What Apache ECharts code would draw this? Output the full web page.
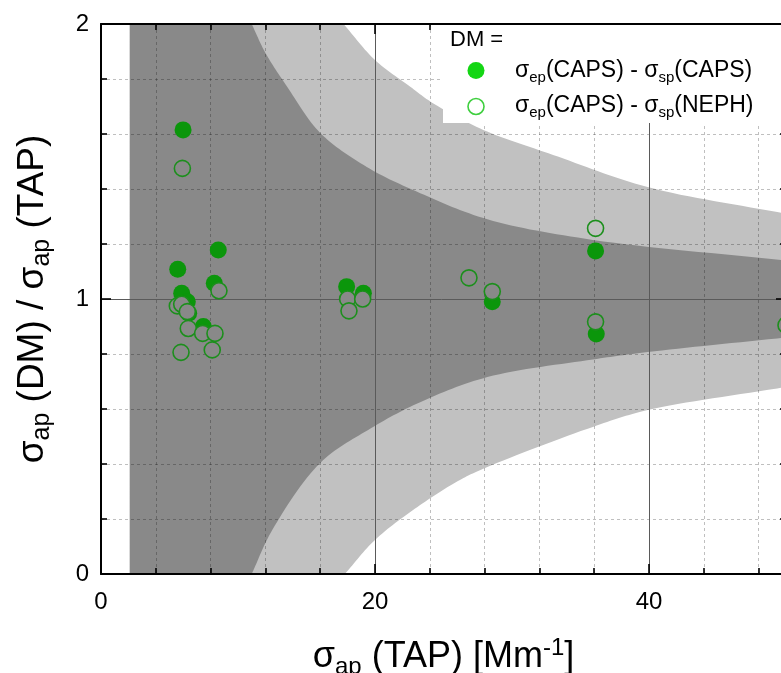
<!DOCTYPE html>
<html>
<head>
<meta charset="utf-8">
<script src="https://cdn.jsdelivr.net/npm/echarts@6/dist/echarts.min.js"></script>
<style>
  html, body { margin: 0; padding: 0; background: #ffffff; }
  #chart { width: 781px; height: 673px; }
</style>
</head>
<body>
<div id="chart"></div>
<script>
// Absorption ratio, DM = σep(CAPS) − σsp(CAPS)
const capsCapsX = [5.99, 8.56, 5.60, 8.27, 5.89, 6.30, 6.40, 7.47, 17.93, 19.15, 28.56, 36.10, 36.15];
const capsCapsY = [1.615, 1.178, 1.108, 1.057, 1.021, 0.99, 0.948, 0.900, 1.045, 1.021, 0.990, 1.175, 0.873];

// Absorption ratio, DM = σep(CAPS) − σsp(NEPH)
const capsNephX = [5.94, 8.61, 5.57, 5.89, 6.30, 6.37, 7.42, 8.32, 5.84, 8.12, 18.0, 19.1, 18.1, 26.86, 28.56, 36.10, 36.10, 50.0];
const capsNephY = [1.475, 1.030, 0.975, 0.981, 0.954, 0.893, 0.875, 0.875, 0.806, 0.815, 1.000, 1.000, 0.957, 1.077, 1.027, 1.257, 0.917, 0.905];

// Both uncertainty bands start here and fill the whole height until their curves enter the plot
const bandStartX = 2.1;
const yBottom = 0;
const yTop = 2;

// Inner uncertainty envelope (dark band)
const darkUpperX = [11.0, 12.0, 13.6, 16.0, 19.4, 23.3, 28.2, 35.9, 50.0];
const darkUpperY = [2.0, 1.895, 1.771, 1.604, 1.480, 1.385, 1.290, 1.215, 1.140];
const darkLowerX = [11.0, 12.5, 16.0, 19.5, 23.3, 28.2, 35.9, 39.9, 50.0];
const darkLowerY = [0.0, 0.160, 0.404, 0.524, 0.625, 0.716, 0.780, 0.807, 0.860];

// Outer uncertainty envelope (light band)
const lightUpperX = [17.7, 20.0, 22.6, 24.2, 27.9, 33.0, 39.9, 50.0];
const lightUpperY = [2.0, 1.869, 1.771, 1.713, 1.615, 1.524, 1.407, 1.310];
const lightLowerX = [17.8, 20.0, 23.1, 26.2, 28.2, 35.9, 39.9, 50.0];
const lightLowerY = [0.0, 0.124, 0.244, 0.342, 0.389, 0.535, 0.596, 0.680];

// Axis ticks
const xTickValues = [0, 20, 40];
const yTickValues = [0, 1, 2];

const FONT = '"Liberation Sans", Arial, Helvetica, sans-serif';
const DARK = '#898989';
const LIGHT = '#c1c1c1';
const GREEN_FILL = '#0b960b';
const GREEN_RING = '#1c8f1c';

const pairs = (xs, ys) => xs.map((x, i) => [x, ys[i]]);

function interp(xs, ys, x) {
  if (x <= xs[0]) return ys[0];
  for (let i = 1; i < xs.length; i++) {
    if (x <= xs[i]) {
      const t = (x - xs[i - 1]) / (xs[i] - xs[i - 1]);
      return ys[i - 1] + t * (ys[i] - ys[i - 1]);
    }
  }
  return ys[ys.length - 1];
}

// open markers take the shade of the band they sit on
function bandShade(x, y) {
  const hi = x < darkUpperX[0] ? yTop : interp(darkUpperX, darkUpperY, x);
  const lo = x < darkLowerX[0] ? yBottom : interp(darkLowerX, darkLowerY, x);
  return (y <= hi && y >= lo) ? DARK : LIGHT;
}

// centripetal Catmull-Rom through pixel points, so band edges render as smooth curves
function smoothEdge(pts, steps) {
  if (pts.length < 3) return pts.slice();
  const n = pts.length;
  const ext = [
    [2 * pts[0][0] - pts[1][0], 2 * pts[0][1] - pts[1][1]],
    ...pts,
    [2 * pts[n - 1][0] - pts[n - 2][0], 2 * pts[n - 1][1] - pts[n - 2][1]]
  ];
  const knot = (a, b) => Math.sqrt(Math.hypot(b[0] - a[0], b[1] - a[1])) || 1e-6;
  const out = [pts[0]];
  for (let i = 1; i < ext.length - 2; i++) {
    const p0 = ext[i - 1], p1 = ext[i], p2 = ext[i + 1], p3 = ext[i + 2];
    const t0 = 0, t1 = t0 + knot(p0, p1), t2 = t1 + knot(p1, p2), t3 = t2 + knot(p2, p3);
    for (let k = 1; k <= steps; k++) {
      const t = t1 + (t2 - t1) * k / steps;
      const mix = (a, b, ta, tb) => [
        ((tb - t) * a[0] + (t - ta) * b[0]) / (tb - ta),
        ((tb - t) * a[1] + (t - ta) * b[1]) / (tb - ta)
      ];
      const A1 = mix(p0, p1, t0, t1), A2 = mix(p1, p2, t1, t2), A3 = mix(p2, p3, t2, t3);
      const B1 = mix(A1, A2, t0, t2), B2 = mix(A2, A3, t1, t3);
      out.push(mix(B1, B2, t1, t2));
    }
  }
  return out;
}

// one shaded band: full height from bandStartX, bounded above and below by its curves
function bandSeries(upper, lower, fill) {
  return {
    type: 'custom',
    coordinateSystem: 'cartesian2d',
    silent: true,
    z: 1,
    data: [[bandStartX, yBottom]],
    renderItem: (params, api) => {
      const up = smoothEdge(upper.map(p => api.coord(p)), 16);
      const lo = smoothEdge(lower.map(p => api.coord(p)), 16).reverse();
      const points = [api.coord([bandStartX, yBottom]), api.coord([bandStartX, yTop])].concat(up, lo);
      return { type: 'polygon', shape: { points: points }, style: { fill: fill } };
    }
  };
}

const tickStyle = { color: '#000', width: 1.6 };
const axisLineStyle = { color: '#000', width: 2 };

const chart = echarts.init(document.getElementById('chart'), null, { renderer: 'canvas' });

chart.setOption({
  animation: false,
  backgroundColor: '#ffffff',
  textStyle: { fontFamily: FONT },
  grid: { left: 101, top: 24, width: 685, height: 550, outerBoundsMode: 'none', containLabel: false },
  xAxis: [
    {
      type: 'value', position: 'bottom', min: 0, max: 50, interval: 20, z: 3,
      axisLine: { onZero: false, lineStyle: axisLineStyle },
      axisTick: { inside: true, length: 10, lineStyle: tickStyle },
      minorTick: { show: true, splitNumber: 5, length: 6, lineStyle: tickStyle },
      axisLabel: {
        fontSize: 24, color: '#000', margin: 16, fontFamily: FONT,
        formatter: v => (xTickValues.includes(v) ? String(v) : '')
      },
      splitLine: { show: true, lineStyle: { color: '#5a5a5a', width: 1 } },
      minorSplitLine: { show: true, lineStyle: { color: 'rgba(0,0,0,0.25)', width: 1, type: [3, 3] } },
      name: '{s|σ}{sub|ap}{s| (TAP) [Mm}{sup|-1}{s|]}',
      nameLocation: 'middle',
      nameGap: 62,
      nameMoveOverlap: false,
      nameTextStyle: {
        color: '#000',
        rich: {
          s: { fontSize: 36, fontFamily: FONT, color: '#000', lineHeight: 43 },
          sub: { fontSize: 24, fontFamily: FONT, color: '#000', verticalAlign: 'bottom', lineHeight: 18 },
          sup: { fontSize: 24, fontFamily: FONT, color: '#000', verticalAlign: 'top', lineHeight: 20 }
        }
      }
    },
    {
      type: 'value', position: 'top', min: 0, max: 50, interval: 20, z: 3,
      axisLine: { onZero: false, lineStyle: axisLineStyle },
      axisTick: { inside: true, length: 10, lineStyle: tickStyle },
      minorTick: { show: true, splitNumber: 5, length: 6, lineStyle: tickStyle },
      axisLabel: { show: false },
      splitLine: { show: false }
    }
  ],
  yAxis: [
    {
      type: 'value', position: 'left', min: 0, max: 2, interval: 1, z: 3,
      axisLine: { onZero: false, lineStyle: axisLineStyle },
      axisTick: { inside: true, length: 10, lineStyle: tickStyle },
      minorTick: { show: true, splitNumber: 5, length: 6, lineStyle: tickStyle },
      axisLabel: {
        fontSize: 24, color: '#000', margin: 12, fontFamily: FONT,
        formatter: v => (yTickValues.includes(v) ? String(v) : '')
      },
      splitLine: { show: true, lineStyle: { color: '#5a5a5a', width: 1 } },
      minorSplitLine: { show: true, lineStyle: { color: 'rgba(0,0,0,0.25)', width: 1, type: [3, 3] } },
      name: '{s|σ}{sub|ap}{s| (DM) / σ}{sub|ap}{s| (TAP)}',
      nameLocation: 'middle',
      nameRotate: 90,
      nameGap: 46,
      nameMoveOverlap: false,
      nameTextStyle: {
        color: '#000',
        rich: {
          s: { fontSize: 37, fontFamily: FONT, color: '#000', lineHeight: 45 },
          sub: { fontSize: 25, fontFamily: FONT, color: '#000', verticalAlign: 'bottom', lineHeight: 19 }
        }
      }
    },
    {
      type: 'value', position: 'right', min: 0, max: 2, interval: 1, z: 3,
      axisLine: { onZero: false, lineStyle: axisLineStyle },
      axisTick: { inside: true, length: 10, lineStyle: tickStyle },
      minorTick: { show: true, splitNumber: 5, length: 6, lineStyle: tickStyle },
      axisLabel: { show: false },
      splitLine: { show: false }
    }
  ],
  series: [
    bandSeries(pairs(lightUpperX, lightUpperY), pairs(lightLowerX, lightLowerY), LIGHT),
    bandSeries(pairs(darkUpperX, darkUpperY), pairs(darkLowerX, darkLowerY), DARK),
    {
      name: 'σep(CAPS) - σsp(CAPS)',
      type: 'scatter',
      z: 5,
      data: pairs(capsCapsX, capsCapsY),
      symbol: 'circle',
      symbolSize: 17,
      itemStyle: { color: GREEN_FILL, opacity: 1 }
    },
    {
      name: 'σep(CAPS) - σsp(NEPH)',
      type: 'scatter',
      z: 6,
      data: pairs(capsNephX, capsNephY),
      symbol: 'circle',
      symbolSize: 16,
      itemStyle: {
        color: p => bandShade(p.value[0], p.value[1]),
        borderColor: GREEN_RING,
        borderWidth: 1.6,
        opacity: 1
      }
    }
  ],
  graphic: [
    {
      type: 'rect', z: 4, silent: true,
      shape: { x: 443, y: 25, width: 345, height: 98 },
      style: { fill: '#ffffff' }
    },
    {
      type: 'text', z: 7, x: 450, y: 40, silent: true,
      style: { text: 'DM =', font: '22px ' + FONT, fill: '#000', verticalAlign: 'middle' }
    },
    {
      type: 'circle', z: 7, silent: true,
      shape: { cx: 476, cy: 70.5, r: 8.5 },
      style: { fill: '#14d614' }
    },
    {
      type: 'text', z: 7, x: 515, y: 71, silent: true,
      style: {
        text: '{s|σ}{sub|ep}{s|(CAPS) - σ}{sub|sp}{s|(CAPS)}',
        verticalAlign: 'middle',
        rich: {
          s: { fontSize: 23, fontFamily: FONT, fill: '#000', lineHeight: 28 },
          sub: { fontSize: 15, fontFamily: FONT, fill: '#000', verticalAlign: 'bottom', lineHeight: 14 }
        }
      }
    },
    {
      type: 'circle', z: 7, silent: true,
      shape: { cx: 476, cy: 106.5, r: 8 },
      style: { fill: '#ffffff', stroke: '#3fcf3f', lineWidth: 1.6 }
    },
    {
      type: 'text', z: 7, x: 515, y: 106, silent: true,
      style: {
        text: '{s|σ}{sub|ep}{s|(CAPS) - σ}{sub|sp}{s|(NEPH)}',
        verticalAlign: 'middle',
        rich: {
          s: { fontSize: 23, fontFamily: FONT, fill: '#000', lineHeight: 28 },
          sub: { fontSize: 15, fontFamily: FONT, fill: '#000', verticalAlign: 'bottom', lineHeight: 14 }
        }
      }
    }
  ]
});
</script>
</body>
</html>
